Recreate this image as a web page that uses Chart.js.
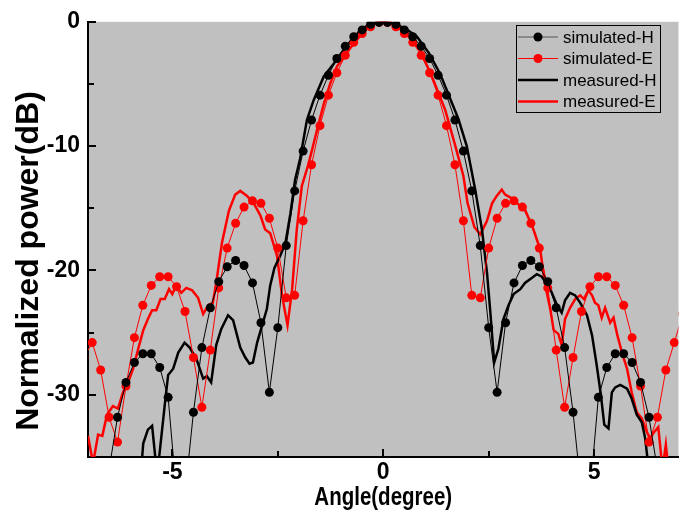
<!DOCTYPE html>
<html>
<head>
<meta charset="utf-8">
<script src="https://cdn.jsdelivr.net/npm/chart.js@4.4.1/dist/chart.umd.min.js"></script>
<style>
  html, body { margin: 0; padding: 0; background: #ffffff; }
  #wrap { width: 683px; height: 512px; }
</style>
</head>
<body>
<div id="wrap"><canvas id="beam-chart" width="683" height="512"></canvas></div>
<script>
// simulated patterns, sampled every 0.2 degree
const simAngle = [-7.1, -6.9, -6.7, -6.5, -6.3, -6.1, -5.9, -5.7, -5.5, -5.3, -5.1, -4.9, -4.7, -4.5, -4.3, -4.1,
  -3.9, -3.7, -3.5, -3.3, -3.1, -2.9, -2.7, -2.5, -2.3, -2.1, -1.9, -1.7, -1.5, -1.3, -1.1, -0.9, -0.7, -0.5,
  -0.3, -0.1, 0.1, 0.3, 0.5, 0.7, 0.9, 1.1, 1.3, 1.5, 1.7, 1.9, 2.1, 2.3, 2.5, 2.7, 2.9, 3.1, 3.3, 3.5, 3.7,
  3.9, 4.1, 4.3, 4.5, 4.7, 4.9, 5.1, 5.3, 5.5, 5.7, 5.9, 6.1, 6.3, 6.5, 6.7, 6.9, 7.1];
const simH = [-39, -40, -42, -36, -31.8, -29.0, -27.4, -26.7, -26.7, -27.8, -30.2, -38, -38, -31.4, -26.2, -23.0,
  -20.9, -19.7, -19.2, -19.6, -21.0, -24.2, -29.8, -24.6, -18.0, -13.6, -10.4, -7.9, -5.9, -4.3, -2.95, -1.97, -1.2, -0.65,
  -0.2, -0.05, -0.05, -0.2, -0.65, -1.2, -1.97, -2.95, -4.3, -5.9, -7.9, -10.4, -13.6, -18.0, -24.6, -29.8, -24.2, -21.0, -19.6, -19.2, -19.7,
  -20.9, -23.0, -26.2, -31.4, -38, -38, -30.2, -27.8, -26.7, -26.7, -27.4, -29.0, -31.8, -36, -42, -40, -39];
const simE = [-27, -25.8, -28.0, -31.8, -33.8, -29.3, -25.4, -22.8, -21.2, -20.5, -20.5, -21.3, -23.3, -27.0, -31.0, -26.4,
  -21.4, -18.2, -16.2, -14.9, -14.4, -14.6, -15.8, -18.2, -22.2, -22.0, -16.0, -11.5, -8.35, -5.9, -4.1, -2.7, -1.65, -0.95,
  -0.4, -0.05, -0.05, -0.4, -0.95, -1.65, -2.7, -4.1, -5.9, -8.35, -11.5, -16.0, -22.0, -22.2, -18.2, -15.8, -14.6, -14.4, -14.9, -16.2, -18.2,
  -21.4, -26.4, -31.0, -27.0, -23.3, -21.3, -20.5, -20.5, -21.2, -22.8, -25.4, -29.3, -33.8, -31.8, -28.0, -25.8, -23.5];

// measured patterns
const measHAngle = [-7.0, -6.0, -5.75, -5.69, -5.58, -5.48, -5.36, -5.18, -5.10, -4.98, -4.86, -4.71, -4.59, -4.43, -4.27,
  -4.18, -4.08, -3.96, -3.84, -3.68, -3.56, -3.39, -3.27, -3.17, -3.09, -2.99, -2.87, -2.76, -2.68, -2.58, -2.44, -2.32,
  -2.20, -2.09, -1.97, -1.81, -1.65, -1.41, -1.18, -0.86, -0.55, -0.31, 0, 0.3, 0.55, 0.80, 1.08, 1.35, 1.78, 1.98, 2.06,
  2.18, 2.34, 2.46, 2.54, 2.63, 2.73, 2.85, 2.97, 3.09, 3.25, 3.36, 3.52, 3.64, 3.76, 3.96, 4.12, 4.23, 4.31, 4.43, 4.55,
  4.67, 4.83, 4.95, 5.06, 5.16, 5.24, 5.34, 5.42, 5.50, 5.62, 5.78, 5.89, 6.01, 6.13, 6.21, 6.26, 6.35, 7.0];
const measH = [-40, -38, -36.5, -33.9, -32.8, -32.5, -36.5, -30.8, -28.4, -27.9, -26.6, -25.8, -26.2, -27.1, -28.7,
  -28.5, -29.0, -26.0, -24.7, -23.6, -24.0, -26.2, -27.0, -27.5, -27.4, -25.8, -24.4, -23.1, -21.2, -19.8, -18.8, -17.8,
  -15.4, -12.7, -11.0, -7.9, -6.3, -4.4, -3.4, -1.9, -0.7, -0.16, 0, -0.2, -0.6, -1.2, -2.5, -4.2, -7.8, -10.0, -11.4,
  -13.5, -16.7, -20.2, -23.4, -27.4, -26.3, -23.9, -22.8, -21.9, -21.5, -21.0, -20.6, -20.3, -20.5, -21.5, -22.8, -23.4, -22.4, -21.8, -22.0,
  -22.6, -23.6, -25.2, -27.6, -30.0, -32.4, -32.7, -29.8, -29.4, -29.2, -29.5, -30.3, -31.6, -32.2, -33.5, -35, -38, -40];

const measEAngle = [-7.0, -6.88, -6.76, -6.66, -6.55, -6.41, -6.29, -6.17, -6.05, -5.93, -5.81, -5.69, -5.58, -5.48, -5.38,
  -5.28, -5.18, -5.08, -5.00, -4.91, -4.79, -4.67, -4.53, -4.39, -4.27, -4.15, -4.04, -3.96, -3.88, -3.82, -3.66, -3.51,
  -3.39, -3.23, -3.07, -2.91, -2.80, -2.68, -2.52, -2.40, -2.27, -2.16, -2.05, -1.93, -1.77, -1.57, -1.41, -1.26, -1.10,
  -0.78, -0.47, -0.23, 0, 0.25, 0.55, 0.88, 1.19, 1.47, 1.71, 1.90, 2.00, 2.16, 2.30, 2.46, 2.58, 2.69, 2.81, 2.89, 3.05,
  3.21, 3.36, 3.56, 3.72, 3.84, 3.96, 4.04, 4.15, 4.23, 4.31, 4.43, 4.55, 4.67, 4.76, 4.86, 4.95, 5.02, 5.10, 5.18, 5.26,
  5.38, 5.46, 5.55, 5.66, 5.78, 5.89, 6.01, 6.13, 6.25, 6.33, 6.42, 6.52, 6.58, 6.62, 6.70, 6.76, 7.0];
const measE = [-33.3, -35.5, -33.2, -33.3, -31.6, -30.9, -31.1, -29.8, -29.0, -27.9, -26.3, -24.8, -23.9, -23.2, -23.2,
  -22.3, -22.3, -21.5, -21.9, -21.2, -21.8, -21.4, -21.6, -22.2, -23.5, -22.8, -22.6, -21.0, -19.1, -17.7, -15.2, -13.9,
  -13.6, -14.0, -14.6, -15.6, -16.7, -17.0, -18.8, -22.0, -24.4, -21.5, -16.7, -13.2, -11.4, -8.7, -6.6, -5.0, -3.6,
  -2.1, -0.8, -0.16, 0, -0.2, -0.9, -2.3, -4.7, -7.1, -10.0, -12.4, -14.6, -16.5, -17.1, -16.0, -14.6, -14.0, -13.5, -13.9, -14.2,
  -14.7, -15.1, -16.7, -18.3, -21.2, -23.1, -24.8, -25.1, -26.0, -23.9, -23.0, -22.3, -22.0, -22.3, -21.6, -22.0, -22.6, -22.8, -23.8, -23.0,
  -24.2, -23.8, -25.2, -26.6, -27.9, -29.8, -31.4, -31.9, -33.0, -33.5, -33.0, -32.6, -34.6, -36, -34, -36, -37];

const seriesNames = ['simulated-H', 'simulated-E', 'measured-H', 'measured-E'];
const xTicks = [-5, 0, 5];
const yTicks = [0, -10, -20, -30];
const xTitle = 'Angle(degree)';
const yTitle = 'Normalized power(dB)';

const pts = (xs, ys) => xs.map((x, i) => ({ x: x, y: ys[i] }));

// grey plot background
const plotBg = {
  id: 'plotBg',
  beforeDraw(chart) {
    const { ctx, chartArea: a } = chart;
    ctx.save();
    ctx.fillStyle = '#c0c0c0';
    ctx.fillRect(a.left, a.top, a.right - a.left, a.bottom - a.top);
    ctx.restore();
  }
};

// Origin style ticks pointing into the plot, plus the two axis titles
const inTicks = {
  id: 'inTicks',
  afterDraw(chart) {
    const { ctx, chartArea: a } = chart;
    const xs = chart.scales.x, ys = chart.scales.y;
    ctx.save();
    ctx.strokeStyle = '#000';
    ctx.lineWidth = 2;
    ctx.beginPath();
    for (let v = -5; v <= 5; v += 2.5) {
      const len = (v % 5 === 0) ? 8 : 6;
      const px = Math.round(xs.getPixelForValue(v));
      ctx.moveTo(px, a.bottom);
      ctx.lineTo(px, a.bottom - len);
    }
    for (let v = 0; v >= -30; v -= 5) {
      const len = (v % 10 === 0) ? 8 : 6;
      const py = Math.round(ys.getPixelForValue(v));
      ctx.moveTo(a.left, py);
      ctx.lineTo(a.left + len, py);
    }
    ctx.stroke();

    ctx.fillStyle = '#000';
    ctx.textAlign = 'center';
    ctx.textBaseline = 'middle';

    // x title is set in a condensed bold face, like Arial Narrow
    ctx.save();
    ctx.font = 'bold 25px "Liberation Sans", Arial, sans-serif';
    ctx.translate((a.left + a.right) / 2, 498);
    ctx.scale(0.82, 1);
    ctx.fillText(xTitle, 0, 0);
    ctx.restore();

    ctx.save();
    ctx.font = 'bold 32px "Liberation Sans", Arial, sans-serif';
    ctx.translate(29, 261);
    ctx.rotate(-Math.PI / 2);
    ctx.fillText(yTitle, 0, 0);
    ctx.restore();

    ctx.restore();
  }
};

// boxed legend in the top right corner
const boxLegend = {
  id: 'boxLegend',
  afterDraw(chart) {
    const ctx = chart.ctx;
    const x0 = 516, y0 = 25, w = 144, h = 87;
    ctx.save();
    ctx.fillStyle = '#c0c0c0';
    ctx.fillRect(x0, y0, w, h);
    ctx.strokeStyle = '#000';
    ctx.lineWidth = 1;
    ctx.strokeRect(x0 + 0.5, y0 + 0.5, w, h);
    chart.data.datasets.forEach((ds, i) => {
      const cy = 37 + i * 21.5;
      ctx.strokeStyle = i === 0 ? '#555' : ds.borderColor;
      ctx.lineWidth = ds.borderWidth;
      ctx.beginPath();
      ctx.moveTo(x0 + 2, cy);
      ctx.lineTo(x0 + 42, cy);
      ctx.stroke();
      if (ds.pointRadius > 0) {
        ctx.fillStyle = ds.pointBackgroundColor;
        ctx.beginPath();
        ctx.arc(x0 + 22, cy, 4.5, 0, Math.PI * 2);
        ctx.fill();
      }
      ctx.fillStyle = '#000';
      ctx.font = '17px "Liberation Sans", Arial, sans-serif';
      ctx.textBaseline = 'middle';
      ctx.fillText(ds.label, x0 + 47, cy + 1);
    });
    ctx.restore();
  }
};

new Chart(document.getElementById('beam-chart').getContext('2d'), {
  type: 'line',
  data: {
    datasets: [{
      label: seriesNames[0],
      data: pts(simAngle, simH),
      borderColor: '#000000',
      borderWidth: 1,
      pointRadius: 4.5,
      pointBackgroundColor: '#000000',
      pointBorderWidth: 0,
      clip: 0
    }, {
      label: seriesNames[1],
      data: pts(simAngle, simE),
      borderColor: '#ff0000',
      borderWidth: 1,
      pointRadius: 4.5,
      pointBackgroundColor: '#ff0000',
      pointBorderWidth: 0,
      clip: 0
    }, {
      label: seriesNames[2],
      data: pts(measHAngle, measH),
      borderColor: '#000000',
      borderWidth: 2.5,
      pointRadius: 0,
      clip: 0
    }, {
      label: seriesNames[3],
      data: pts(measEAngle, measE),
      borderColor: '#ff0000',
      borderWidth: 2.5,
      pointRadius: 0,
      clip: 0
    }]
  },
  options: {
    responsive: false,
    animation: false,
    layout: { padding: { top: 16, right: 3, left: 0, bottom: 0 } },
    plugins: {
      legend: { display: false },
      tooltip: { enabled: false }
    },
    scales: {
      x: {
        type: 'linear',
        min: -7,
        max: 7,
        afterFit: (s) => { s.height = 55; },
        afterBuildTicks: (s) => { s.ticks = xTicks.map(v => ({ value: v })); },
        grid: { display: false, drawTicks: false },
        border: { display: true, color: '#000', width: 2 },
        ticks: {
          padding: 2,
          color: '#000',
          font: { family: '"Liberation Sans", Arial, sans-serif', size: 23, weight: 'bold' }
        },
        title: { display: false }
      },
      y: {
        type: 'linear',
        min: -35,
        max: 0,
        afterFit: (s) => { s.width = 88; },
        afterBuildTicks: (s) => { s.ticks = yTicks.map(v => ({ value: v })); },
        grid: { display: false, drawTicks: false },
        border: { display: true, color: '#000', width: 2 },
        ticks: {
          padding: 8,
          color: '#000',
          font: { family: '"Liberation Sans", Arial, sans-serif', size: 23, weight: 'bold' }
        },
        title: { display: false }
      }
    }
  },
  plugins: [plotBg, inTicks, boxLegend]
});
</script>
</body>
</html>
